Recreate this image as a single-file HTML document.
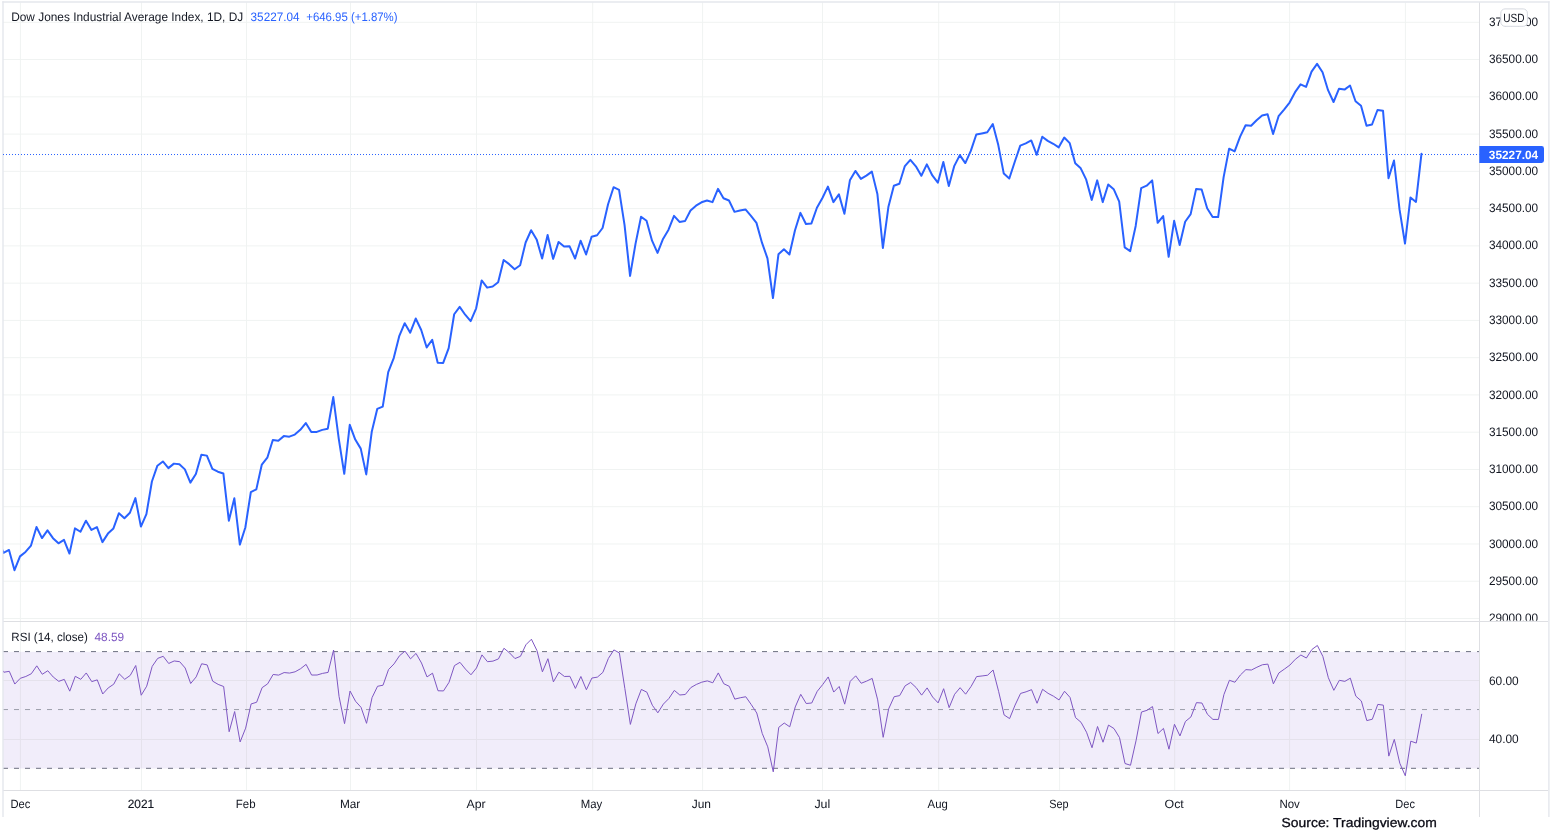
<!DOCTYPE html>
<html><head><meta charset="utf-8"><title>DJI chart</title>
<style>html,body{margin:0;padding:0;background:#fff;width:1551px;height:835px;overflow:hidden}</style>
</head><body>
<svg width="1551" height="835" viewBox="0 0 1551 835" style="position:absolute;left:0;top:0;text-rendering:geometricPrecision;will-change:transform"><defs><clipPath id="cm"><rect x="3.3" y="2.8" width="1475.6" height="618"/></clipPath><clipPath id="cr"><rect x="3.3" y="622" width="1475.6" height="168"/></clipPath><clipPath id="ca"><rect x="1480" y="2.8" width="68" height="618"/></clipPath></defs><line x1="20.4" y1="2.5" x2="20.4" y2="790.5" stroke="rgb(240,243,242)" stroke-width="1"/><line x1="141.5" y1="2.5" x2="141.5" y2="790.5" stroke="rgb(240,243,242)" stroke-width="1"/><line x1="246.5" y1="2.5" x2="246.5" y2="790.5" stroke="rgb(240,243,242)" stroke-width="1"/><line x1="350.5" y1="2.5" x2="350.5" y2="790.5" stroke="rgb(240,243,242)" stroke-width="1"/><line x1="476.5" y1="2.5" x2="476.5" y2="790.5" stroke="rgb(240,243,242)" stroke-width="1"/><line x1="592.7" y1="2.5" x2="592.7" y2="790.5" stroke="rgb(240,243,242)" stroke-width="1"/><line x1="702.6" y1="2.5" x2="702.6" y2="790.5" stroke="rgb(240,243,242)" stroke-width="1"/><line x1="822.5" y1="2.5" x2="822.5" y2="790.5" stroke="rgb(240,243,242)" stroke-width="1"/><line x1="938.7" y1="2.5" x2="938.7" y2="790.5" stroke="rgb(240,243,242)" stroke-width="1"/><line x1="1059.6" y1="2.5" x2="1059.6" y2="790.5" stroke="rgb(240,243,242)" stroke-width="1"/><line x1="1174.7" y1="2.5" x2="1174.7" y2="790.5" stroke="rgb(240,243,242)" stroke-width="1"/><line x1="1289.6" y1="2.5" x2="1289.6" y2="790.5" stroke="rgb(240,243,242)" stroke-width="1"/><line x1="1405.4" y1="2.5" x2="1405.4" y2="790.5" stroke="rgb(240,243,242)" stroke-width="1"/><line x1="3" y1="618.50" x2="1479.5" y2="618.50" stroke="rgb(240,243,242)" stroke-width="1"/><line x1="3" y1="581.24" x2="1479.5" y2="581.24" stroke="rgb(240,243,242)" stroke-width="1"/><line x1="3" y1="543.97" x2="1479.5" y2="543.97" stroke="rgb(240,243,242)" stroke-width="1"/><line x1="3" y1="506.71" x2="1479.5" y2="506.71" stroke="rgb(240,243,242)" stroke-width="1"/><line x1="3" y1="469.45" x2="1479.5" y2="469.45" stroke="rgb(240,243,242)" stroke-width="1"/><line x1="3" y1="432.19" x2="1479.5" y2="432.19" stroke="rgb(240,243,242)" stroke-width="1"/><line x1="3" y1="394.92" x2="1479.5" y2="394.92" stroke="rgb(240,243,242)" stroke-width="1"/><line x1="3" y1="357.66" x2="1479.5" y2="357.66" stroke="rgb(240,243,242)" stroke-width="1"/><line x1="3" y1="320.40" x2="1479.5" y2="320.40" stroke="rgb(240,243,242)" stroke-width="1"/><line x1="3" y1="283.14" x2="1479.5" y2="283.14" stroke="rgb(240,243,242)" stroke-width="1"/><line x1="3" y1="245.88" x2="1479.5" y2="245.88" stroke="rgb(240,243,242)" stroke-width="1"/><line x1="3" y1="208.61" x2="1479.5" y2="208.61" stroke="rgb(240,243,242)" stroke-width="1"/><line x1="3" y1="171.35" x2="1479.5" y2="171.35" stroke="rgb(240,243,242)" stroke-width="1"/><line x1="3" y1="134.09" x2="1479.5" y2="134.09" stroke="rgb(240,243,242)" stroke-width="1"/><line x1="3" y1="96.82" x2="1479.5" y2="96.82" stroke="rgb(240,243,242)" stroke-width="1"/><line x1="3" y1="59.56" x2="1479.5" y2="59.56" stroke="rgb(240,243,242)" stroke-width="1"/><line x1="3" y1="22.30" x2="1479.5" y2="22.30" stroke="rgb(240,243,242)" stroke-width="1"/><rect x="3" y="651.80" width="1476.5" height="116.70" fill="rgb(241,237,250)"/><line x1="3" y1="680.50" x2="1479.5" y2="680.50" stroke="rgb(229,226,236)" stroke-width="1"/><line x1="3" y1="739.50" x2="1479.5" y2="739.50" stroke="rgb(229,226,236)" stroke-width="1"/><line x1="20.4" y1="651.80" x2="20.4" y2="768.50" stroke="rgb(229,226,236)" stroke-width="1"/><line x1="141.5" y1="651.80" x2="141.5" y2="768.50" stroke="rgb(229,226,236)" stroke-width="1"/><line x1="246.5" y1="651.80" x2="246.5" y2="768.50" stroke="rgb(229,226,236)" stroke-width="1"/><line x1="350.5" y1="651.80" x2="350.5" y2="768.50" stroke="rgb(229,226,236)" stroke-width="1"/><line x1="476.5" y1="651.80" x2="476.5" y2="768.50" stroke="rgb(229,226,236)" stroke-width="1"/><line x1="592.7" y1="651.80" x2="592.7" y2="768.50" stroke="rgb(229,226,236)" stroke-width="1"/><line x1="702.6" y1="651.80" x2="702.6" y2="768.50" stroke="rgb(229,226,236)" stroke-width="1"/><line x1="822.5" y1="651.80" x2="822.5" y2="768.50" stroke="rgb(229,226,236)" stroke-width="1"/><line x1="938.7" y1="651.80" x2="938.7" y2="768.50" stroke="rgb(229,226,236)" stroke-width="1"/><line x1="1059.6" y1="651.80" x2="1059.6" y2="768.50" stroke="rgb(229,226,236)" stroke-width="1"/><line x1="1174.7" y1="651.80" x2="1174.7" y2="768.50" stroke="rgb(229,226,236)" stroke-width="1"/><line x1="1289.6" y1="651.80" x2="1289.6" y2="768.50" stroke="rgb(229,226,236)" stroke-width="1"/><line x1="1405.4" y1="651.80" x2="1405.4" y2="768.50" stroke="rgb(229,226,236)" stroke-width="1"/><line x1="3" y1="651.60" x2="1479.5" y2="651.60" stroke="#6d7080" stroke-width="1" stroke-dasharray="5 6" stroke-dashoffset="0"/><line x1="3" y1="709.55" x2="1479.5" y2="709.55" stroke="#9c9eaa" stroke-width="1" stroke-dasharray="5 6" stroke-dashoffset="0"/><line x1="3" y1="768.30" x2="1479.5" y2="768.30" stroke="#6d7080" stroke-width="1" stroke-dasharray="5 6" stroke-dashoffset="0"/><line x1="3" y1="621.5" x2="1548" y2="621.5" stroke="rgb(222,223,227)" stroke-width="1"/><line x1="3" y1="790.5" x2="1548" y2="790.5" stroke="rgb(222,223,227)" stroke-width="1"/><line x1="1479.5" y1="2" x2="1479.5" y2="817" stroke="rgb(222,223,227)" stroke-width="1"/><line x1="3.0" y1="1.3" x2="3.0" y2="817" stroke="#e4e7ed" stroke-width="1.4"/><line x1="2.3" y1="2.0" x2="1549.6" y2="2.0" stroke="#e4e7ed" stroke-width="1.4"/><line x1="1548.9" y1="1.3" x2="1548.9" y2="817" stroke="#e4e7ed" stroke-width="1.4"/><line x1="3" y1="154.53" x2="1479.5" y2="154.53" stroke="#2962ff" stroke-width="1" stroke-dasharray="1 2"/><path d="M-7.48,573.74 L-1.98,539.83 L3.51,552.78 L9.01,549.95 L14.50,570.21 L20.00,556.40 L25.50,551.94 L30.99,545.55 L36.49,527.01 L41.98,538.07 L47.48,530.32 L52.98,538.15 L58.47,543.33 L63.97,539.82 L69.46,553.59 L74.96,528.38 L80.46,531.76 L85.95,520.67 L91.45,529.93 L96.94,527.14 L102.44,542.12 L107.94,533.60 L113.43,528.42 L118.93,513.17 L124.42,518.26 L129.92,512.75 L135.42,498.08 L140.91,526.59 L146.41,514.09 L151.90,481.46 L157.40,465.68 L162.90,461.45 L168.39,468.10 L173.89,463.63 L179.38,464.24 L184.88,469.38 L190.38,482.59 L195.87,473.93 L201.37,454.71 L206.86,455.63 L212.36,468.98 L217.86,471.73 L223.35,473.44 L228.85,520.68 L234.34,498.31 L239.84,544.57 L245.34,527.48 L250.83,492.04 L256.33,489.35 L261.82,464.59 L267.32,457.70 L272.82,440.00 L278.31,440.74 L283.81,436.12 L289.30,436.65 L294.80,434.59 L300.30,429.79 L305.79,423.06 L311.29,431.98 L316.78,431.91 L322.28,429.87 L327.78,428.70 L333.27,397.07 L338.77,438.79 L344.26,473.79 L349.76,424.78 L355.26,439.57 L360.75,448.62 L366.25,474.40 L371.74,431.76 L377.24,408.95 L382.74,406.69 L388.23,372.09 L393.73,358.04 L399.22,336.20 L404.72,323.17 L410.22,332.67 L415.71,318.55 L421.21,329.96 L426.70,347.43 L432.20,339.73 L437.70,362.69 L443.19,362.92 L448.69,348.06 L454.18,314.27 L459.68,306.93 L465.18,314.71 L470.67,321.07 L476.17,308.28 L481.66,280.41 L487.16,287.64 L492.66,286.44 L498.15,282.17 L503.65,260.04 L509.14,264.15 L514.64,269.23 L520.14,265.23 L525.63,242.49 L531.13,230.22 L536.62,239.39 L542.12,258.49 L547.62,234.94 L553.11,258.90 L558.61,241.93 L564.10,246.55 L569.60,246.30 L575.10,258.56 L580.59,240.68 L586.09,254.50 L591.58,236.74 L597.08,235.26 L602.58,228.01 L608.07,204.30 L613.57,187.21 L619.06,189.82 L624.56,225.12 L630.06,275.90 L635.55,243.58 L641.05,216.70 L646.54,220.75 L652.04,240.65 L657.54,252.92 L663.03,238.90 L668.53,229.69 L674.02,215.81 L679.52,221.89 L685.02,221.10 L690.51,210.55 L696.01,205.72 L701.50,202.30 L707.00,200.43 L712.50,202.17 L717.99,188.81 L723.49,198.21 L728.98,200.47 L734.48,211.85 L739.98,210.43 L745.47,209.43 L750.97,215.83 L756.46,222.87 L761.96,242.67 L767.46,258.33 L772.95,298.08 L778.45,254.34 L783.94,249.23 L789.44,254.55 L794.94,230.51 L800.43,212.84 L805.93,224.06 L811.42,223.39 L816.92,207.73 L822.42,197.96 L827.91,186.57 L833.41,202.15 L838.90,194.36 L844.40,213.73 L849.90,180.33 L855.39,170.93 L860.89,178.94 L866.38,175.63 L871.88,171.62 L877.38,193.91 L882.87,248.00 L888.37,207.02 L893.86,185.70 L899.36,183.81 L904.86,166.06 L910.35,159.90 L915.85,166.29 L921.34,175.80 L926.84,164.35 L932.34,175.46 L937.83,182.71 L943.33,161.98 L948.82,186.10 L954.32,165.86 L959.82,155.11 L965.31,163.06 L970.81,150.93 L976.30,134.51 L981.80,133.40 L987.30,132.24 L992.79,124.04 L998.29,145.07 L1003.78,173.58 L1009.28,178.54 L1014.78,161.70 L1020.27,145.63 L1025.77,143.35 L1031.26,140.43 L1036.76,154.77 L1042.26,136.68 L1047.75,140.85 L1053.25,143.77 L1058.74,147.36 L1064.24,137.57 L1069.74,143.14 L1075.23,163.20 L1080.73,168.33 L1086.22,179.64 L1091.72,199.88 L1097.22,180.37 L1102.71,202.13 L1108.21,184.48 L1113.70,189.18 L1119.20,201.59 L1124.70,247.38 L1130.19,251.15 L1135.69,225.92 L1141.18,188.18 L1146.68,185.70 L1152.18,180.39 L1157.67,222.82 L1163.17,216.06 L1168.66,256.81 L1174.16,220.85 L1179.66,244.96 L1185.15,221.72 L1190.65,214.10 L1196.14,188.91 L1201.64,189.56 L1207.14,208.21 L1212.63,216.98 L1218.13,217.02 L1223.62,177.17 L1229.12,148.68 L1234.62,151.38 L1240.11,136.57 L1245.61,125.24 L1251.10,125.71 L1256.60,120.20 L1262.10,115.42 L1267.59,114.24 L1273.09,134.08 L1278.58,116.21 L1284.08,109.57 L1289.58,102.55 L1295.07,92.20 L1300.57,84.38 L1306.06,86.87 L1311.56,71.68 L1317.06,63.91 L1322.55,72.28 L1328.05,90.17 L1333.54,102.00 L1339.04,88.65 L1344.54,89.61 L1350.03,85.53 L1355.53,101.26 L1361.02,105.74 L1366.52,125.79 L1372.02,124.50 L1377.51,110.00 L1383.01,110.70 L1388.50,178.15 L1394.00,160.52 L1399.50,209.13 L1404.99,243.53 L1410.49,197.49 L1415.98,201.94 L1421.48,153.73" fill="none" stroke="#2962ff" stroke-width="2" stroke-linejoin="round" stroke-linecap="round" clip-path="url(#cm)"/><path d="M-7.18,676.12 L-1.68,664.28 L3.81,672.24 L9.31,671.32 L14.80,684.06 L20.30,678.29 L25.80,676.49 L31.29,673.75 L36.79,665.83 L42.28,674.27 L47.78,670.74 L53.28,677.06 L58.77,681.33 L64.27,679.39 L69.76,691.17 L75.26,676.31 L80.76,679.32 L86.25,672.96 L91.75,681.61 L97.24,679.87 L102.74,693.98 L108.24,687.89 L113.73,684.21 L119.23,673.82 L124.72,679.31 L130.22,675.41 L135.72,665.52 L141.21,695.22 L146.71,686.19 L152.20,666.35 L157.70,658.38 L163.20,656.31 L168.69,663.47 L174.19,660.96 L179.68,661.70 L185.18,668.01 L190.68,683.50 L196.17,676.91 L201.67,663.75 L207.16,664.91 L212.66,681.15 L218.16,684.40 L223.65,686.51 L229.15,731.72 L234.64,711.56 L240.14,741.93 L245.64,728.15 L251.13,703.93 L256.63,702.26 L262.12,687.65 L267.62,683.86 L273.12,674.48 L278.61,675.12 L284.11,672.56 L289.60,673.08 L295.10,671.80 L300.60,668.71 L306.09,664.37 L311.59,675.05 L317.08,675.00 L322.58,673.38 L328.08,672.41 L333.57,650.01 L339.07,696.61 L344.56,723.63 L350.06,691.04 L355.56,701.27 L361.05,707.35 L366.55,723.32 L372.04,697.65 L377.54,686.29 L383.04,685.19 L388.53,669.55 L394.03,663.91 L399.52,655.71 L405.02,651.11 L410.52,658.85 L416.01,653.43 L421.51,663.00 L427.00,676.93 L432.50,673.18 L438.00,690.76 L443.49,690.93 L448.99,682.37 L454.48,665.58 L459.98,662.32 L465.48,669.15 L470.97,674.78 L476.47,667.98 L481.96,654.88 L487.46,661.69 L492.96,661.11 L498.45,658.91 L503.95,648.27 L509.44,652.81 L514.94,658.56 L520.44,656.34 L525.93,644.73 L531.43,639.23 L536.92,650.46 L542.42,671.85 L547.92,658.72 L553.41,681.87 L558.91,672.16 L564.40,676.48 L569.90,676.32 L575.40,688.43 L580.89,676.49 L586.39,689.73 L591.88,678.05 L597.38,677.11 L602.88,672.38 L608.37,658.47 L613.87,649.91 L619.36,652.92 L624.86,688.60 L630.36,724.40 L635.85,703.84 L641.35,689.44 L646.84,692.16 L652.34,705.24 L657.84,712.82 L663.33,704.12 L668.83,698.55 L674.32,690.41 L679.82,694.99 L685.32,694.48 L690.81,687.60 L696.31,684.46 L701.80,682.18 L707.30,680.88 L712.80,682.79 L718.29,672.92 L723.79,683.72 L729.28,686.32 L734.78,699.11 L740.28,697.75 L745.77,696.74 L751.27,704.62 L756.76,712.99 L762.26,733.50 L767.76,746.83 L773.25,771.83 L778.75,727.33 L784.24,723.04 L789.74,726.82 L795.24,706.94 L800.73,694.34 L806.23,703.51 L811.72,703.00 L817.22,691.32 L822.72,684.52 L828.21,676.94 L833.71,692.07 L839.20,686.48 L844.70,704.17 L850.20,681.35 L855.69,675.84 L861.19,683.26 L866.68,681.10 L872.18,678.41 L877.68,699.87 L883.17,737.32 L888.67,708.87 L894.16,696.68 L899.66,695.62 L905.16,685.79 L910.65,682.48 L916.15,687.57 L921.64,695.14 L927.14,687.90 L932.64,697.04 L938.13,702.89 L943.63,688.71 L949.12,707.62 L954.62,694.27 L960.12,687.70 L965.61,694.18 L971.11,686.40 L976.60,676.60 L982.10,675.95 L987.60,675.22 L993.09,669.99 L998.59,691.31 L1004.08,714.91 L1009.58,718.60 L1015.08,705.07 L1020.57,693.43 L1026.07,691.82 L1031.56,689.66 L1037.06,703.25 L1042.56,689.30 L1048.05,693.33 L1053.55,696.24 L1059.04,699.95 L1064.54,691.26 L1070.04,697.45 L1075.53,717.60 L1081.03,722.29 L1086.52,732.22 L1092.02,747.72 L1097.52,726.51 L1103.01,742.22 L1108.51,725.09 L1114.00,728.59 L1119.50,737.58 L1125.00,763.51 L1130.49,765.27 L1135.99,740.90 L1141.48,712.02 L1146.98,710.33 L1152.48,706.57 L1157.97,733.52 L1163.47,728.41 L1168.96,749.20 L1174.46,724.29 L1179.96,735.91 L1185.45,721.44 L1190.95,716.90 L1196.44,702.65 L1201.94,703.04 L1207.44,714.31 L1212.93,719.41 L1218.43,719.43 L1223.92,694.60 L1229.42,680.29 L1234.92,682.22 L1240.41,674.97 L1245.91,669.64 L1251.40,670.03 L1256.90,667.24 L1262.40,664.76 L1267.89,664.12 L1273.39,683.85 L1278.88,672.95 L1284.38,669.12 L1289.88,665.08 L1295.37,659.26 L1300.87,655.00 L1306.36,658.02 L1311.86,649.54 L1317.36,645.48 L1322.85,656.41 L1328.35,677.73 L1333.84,690.32 L1339.34,680.30 L1344.84,681.37 L1350.33,678.18 L1355.83,696.17 L1361.32,700.97 L1366.82,720.58 L1372.32,719.22 L1377.81,704.40 L1383.31,705.15 L1388.80,756.11 L1394.30,739.38 L1399.80,763.25 L1405.29,775.75 L1410.79,741.17 L1416.28,743.08 L1421.78,713.85" fill="none" stroke="#7e57c2" stroke-width="1" stroke-linejoin="round" clip-path="url(#cr)"/><g clip-path="url(#ca)"><text x="1488.90" y="622.33" font-family='"Liberation Sans", sans-serif' font-size="12.3" fill="#131722" textLength="49.20" lengthAdjust="spacingAndGlyphs">29000.00</text></g><g clip-path="url(#ca)"><text x="1488.90" y="585.04" font-family='"Liberation Sans", sans-serif' font-size="12.3" fill="#131722" textLength="49.20" lengthAdjust="spacingAndGlyphs">29500.00</text></g><g clip-path="url(#ca)"><text x="1488.90" y="547.74" font-family='"Liberation Sans", sans-serif' font-size="12.3" fill="#131722" textLength="49.20" lengthAdjust="spacingAndGlyphs">30000.00</text></g><g clip-path="url(#ca)"><text x="1488.90" y="510.45" font-family='"Liberation Sans", sans-serif' font-size="12.3" fill="#131722" textLength="49.20" lengthAdjust="spacingAndGlyphs">30500.00</text></g><g clip-path="url(#ca)"><text x="1488.90" y="473.16" font-family='"Liberation Sans", sans-serif' font-size="12.3" fill="#131722" textLength="49.20" lengthAdjust="spacingAndGlyphs">31000.00</text></g><g clip-path="url(#ca)"><text x="1488.90" y="435.87" font-family='"Liberation Sans", sans-serif' font-size="12.3" fill="#131722" textLength="49.20" lengthAdjust="spacingAndGlyphs">31500.00</text></g><g clip-path="url(#ca)"><text x="1488.90" y="398.57" font-family='"Liberation Sans", sans-serif' font-size="12.3" fill="#131722" textLength="49.20" lengthAdjust="spacingAndGlyphs">32000.00</text></g><g clip-path="url(#ca)"><text x="1488.90" y="361.28" font-family='"Liberation Sans", sans-serif' font-size="12.3" fill="#131722" textLength="49.20" lengthAdjust="spacingAndGlyphs">32500.00</text></g><g clip-path="url(#ca)"><text x="1488.90" y="323.99" font-family='"Liberation Sans", sans-serif' font-size="12.3" fill="#131722" textLength="49.20" lengthAdjust="spacingAndGlyphs">33000.00</text></g><g clip-path="url(#ca)"><text x="1488.90" y="286.70" font-family='"Liberation Sans", sans-serif' font-size="12.3" fill="#131722" textLength="49.20" lengthAdjust="spacingAndGlyphs">33500.00</text></g><g clip-path="url(#ca)"><text x="1488.90" y="249.41" font-family='"Liberation Sans", sans-serif' font-size="12.3" fill="#131722" textLength="49.20" lengthAdjust="spacingAndGlyphs">34000.00</text></g><g clip-path="url(#ca)"><text x="1488.90" y="212.11" font-family='"Liberation Sans", sans-serif' font-size="12.3" fill="#131722" textLength="49.20" lengthAdjust="spacingAndGlyphs">34500.00</text></g><g clip-path="url(#ca)"><text x="1488.90" y="174.82" font-family='"Liberation Sans", sans-serif' font-size="12.3" fill="#131722" textLength="49.20" lengthAdjust="spacingAndGlyphs">35000.00</text></g><g clip-path="url(#ca)"><text x="1488.90" y="137.53" font-family='"Liberation Sans", sans-serif' font-size="12.3" fill="#131722" textLength="49.20" lengthAdjust="spacingAndGlyphs">35500.00</text></g><g clip-path="url(#ca)"><text x="1488.90" y="100.23" font-family='"Liberation Sans", sans-serif' font-size="12.3" fill="#131722" textLength="49.20" lengthAdjust="spacingAndGlyphs">36000.00</text></g><g clip-path="url(#ca)"><text x="1488.90" y="62.94" font-family='"Liberation Sans", sans-serif' font-size="12.3" fill="#131722" textLength="49.20" lengthAdjust="spacingAndGlyphs">36500.00</text></g><g clip-path="url(#ca)"><text x="1488.90" y="25.65" font-family='"Liberation Sans", sans-serif' font-size="12.3" fill="#131722" textLength="49.20" lengthAdjust="spacingAndGlyphs">37000.00</text></g><text x="1488.90" y="684.68" font-family='"Liberation Sans", sans-serif' font-size="12.3" fill="#131722" textLength="29.80" lengthAdjust="spacingAndGlyphs">60.00</text><text x="1488.90" y="743.02" font-family='"Liberation Sans", sans-serif' font-size="12.3" fill="#131722" textLength="29.80" lengthAdjust="spacingAndGlyphs">40.00</text><path d="M1479.3,146 H1541.6 a2.4,2.4 0 0 1 2.4,2.4 V160.5 a2.4,2.4 0 0 1 -2.4,2.4 H1479.3 Z" fill="#2962ff"/><text x="1488.80" y="158.90" font-family='"Liberation Sans", sans-serif' font-size="12" fill="#ffffff" textLength="49.40" lengthAdjust="spacingAndGlyphs" font-weight="bold">35227.04</text><rect x="1500.8" y="8.9" width="26.6" height="17.4" rx="4.2" fill="#ffffff" stroke="#d6d9e0" stroke-width="1"/><text x="1503.30" y="21.70" font-family='"Liberation Sans", sans-serif' font-size="12" fill="#131722" textLength="21.30" lengthAdjust="spacingAndGlyphs">USD</text><text x="10.40" y="807.70" font-family='"Liberation Sans", sans-serif' font-size="12" fill="#131722" textLength="19.90" lengthAdjust="spacingAndGlyphs">Dec</text><text x="127.70" y="807.70" font-family='"Liberation Sans", sans-serif' font-size="12" fill="#131722" textLength="26.40" lengthAdjust="spacingAndGlyphs" stroke="#131722" stroke-width="0.18">2021</text><text x="235.80" y="807.70" font-family='"Liberation Sans", sans-serif' font-size="12" fill="#131722" textLength="19.70" lengthAdjust="spacingAndGlyphs">Feb</text><text x="339.90" y="807.70" font-family='"Liberation Sans", sans-serif' font-size="12" fill="#131722" textLength="20.40" lengthAdjust="spacingAndGlyphs">Mar</text><text x="466.60" y="807.70" font-family='"Liberation Sans", sans-serif' font-size="12" fill="#131722" textLength="19.10" lengthAdjust="spacingAndGlyphs">Apr</text><text x="580.70" y="807.70" font-family='"Liberation Sans", sans-serif' font-size="12" fill="#131722" textLength="21.50" lengthAdjust="spacingAndGlyphs">May</text><text x="691.70" y="807.70" font-family='"Liberation Sans", sans-serif' font-size="12" fill="#131722" textLength="19.30" lengthAdjust="spacingAndGlyphs">Jun</text><text x="814.40" y="807.70" font-family='"Liberation Sans", sans-serif' font-size="12" fill="#131722" textLength="15.90" lengthAdjust="spacingAndGlyphs">Jul</text><text x="927.60" y="807.70" font-family='"Liberation Sans", sans-serif' font-size="12" fill="#131722" textLength="20.20" lengthAdjust="spacingAndGlyphs">Aug</text><text x="1049.20" y="807.70" font-family='"Liberation Sans", sans-serif' font-size="12" fill="#131722" textLength="19.30" lengthAdjust="spacingAndGlyphs">Sep</text><text x="1164.50" y="807.70" font-family='"Liberation Sans", sans-serif' font-size="12" fill="#131722" textLength="19.30" lengthAdjust="spacingAndGlyphs">Oct</text><text x="1279.40" y="807.70" font-family='"Liberation Sans", sans-serif' font-size="12" fill="#131722" textLength="20.40" lengthAdjust="spacingAndGlyphs">Nov</text><text x="1395.30" y="807.70" font-family='"Liberation Sans", sans-serif' font-size="12" fill="#131722" textLength="19.60" lengthAdjust="spacingAndGlyphs">Dec</text><text x="11.20" y="20.60" font-family='"Liberation Sans", sans-serif' font-size="12.3" fill="#131722" textLength="232.00" lengthAdjust="spacingAndGlyphs">Dow Jones Industrial Average Index, 1D, DJ</text><text x="250.60" y="20.70" font-family='"Liberation Sans", sans-serif' font-size="12.3" fill="#2962ff" textLength="48.90" lengthAdjust="spacingAndGlyphs">35227.04</text><text x="306.30" y="20.70" font-family='"Liberation Sans", sans-serif' font-size="12.3" fill="#2962ff" textLength="91.20" lengthAdjust="spacingAndGlyphs">+646.95 (+1.87%)</text><text x="11.30" y="640.80" font-family='"Liberation Sans", sans-serif' font-size="12" fill="#131722" textLength="76.60" lengthAdjust="spacingAndGlyphs">RSI (14, close)</text><text x="94.50" y="640.80" font-family='"Liberation Sans", sans-serif' font-size="12" fill="#7e57c2" textLength="29.60" lengthAdjust="spacingAndGlyphs">48.59</text><text x="1281.60" y="826.80" font-family='"Liberation Sans", sans-serif' font-size="13" fill="#0a0a14" textLength="155.20" lengthAdjust="spacingAndGlyphs" stroke="#0a0a14" stroke-width="0.3">Source: Tradingview.com</text></svg>
</body></html>
